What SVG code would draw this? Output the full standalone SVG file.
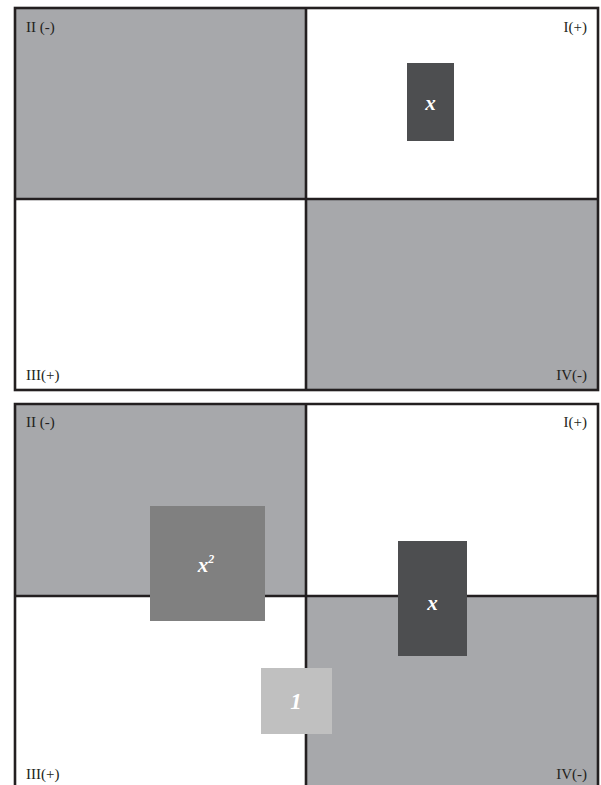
<svg xmlns="http://www.w3.org/2000/svg" width="601" height="785" viewBox="0 0 601 785">
<style>
.q{fill:#a7a8ab}
.ln{stroke:#231f20;stroke-width:2.6;fill:none}
.lbl{font-family:"Liberation Serif",serif;font-size:15px;fill:#231f20}
.t{font-family:"Liberation Serif",serif;font-style:italic;font-weight:bold;fill:#ffffff;text-anchor:middle}
</style>
<rect x="0" y="0" width="601" height="785" fill="#ffffff"/>
<g id="panel-top">
<rect class="q" x="15" y="8" width="291" height="191"/>
<rect class="q" x="306" y="199" width="292" height="191"/>
<rect class="ln" x="15" y="8" width="583" height="382"/>
<line class="ln" x1="306" y1="8" x2="306" y2="390"/>
<line class="ln" x1="15" y1="199" x2="598" y2="199"/>
<text class="lbl" x="26" y="32">II (-)</text>
<text class="lbl" x="587" y="32" text-anchor="end">I(+)</text>
<text class="lbl" x="26" y="380">III(+)</text>
<text class="lbl" x="587" y="380" text-anchor="end">IV(-)</text>
</g>
<g id="tile-x-top">
<rect x="407" y="63" width="47" height="78" fill="#4d4e50"/>
<text class="t" x="430.5" y="110" font-size="21">x</text>
</g>
<g id="panel-bottom">
<rect class="q" x="15" y="404" width="291" height="192"/>
<rect class="q" x="306" y="596" width="292" height="192"/>
<path class="ln" d="M15,790 V404 H598 V790"/>
<line class="ln" x1="306" y1="404" x2="306" y2="790"/>
<line class="ln" x1="15" y1="596" x2="598" y2="596"/>
<text class="lbl" x="26" y="779">III(+)</text>
<text class="lbl" x="587" y="779" text-anchor="end">IV(-)</text>
<text class="lbl" x="26" y="427">II (-)</text>
<text class="lbl" x="587" y="427" text-anchor="end">I(+)</text>
</g>
<g id="tile-x2">
<rect x="150" y="506" width="115" height="115" fill="#808080"/>
<text class="t" x="206" y="572" font-size="21">x<tspan font-size="12" dy="-9">2</tspan></text>
</g>
<g id="tile-x-bottom">
<rect x="398" y="541" width="69" height="115" fill="#4d4e50"/>
<text class="t" x="432.5" y="610" font-size="21">x</text>
</g>
<g id="tile-1">
<rect x="261" y="668" width="71" height="66" fill="#c0c0c0"/>
<text class="t" x="296" y="709" font-size="23" font-weight="normal">1</text>
</g>
</svg>
